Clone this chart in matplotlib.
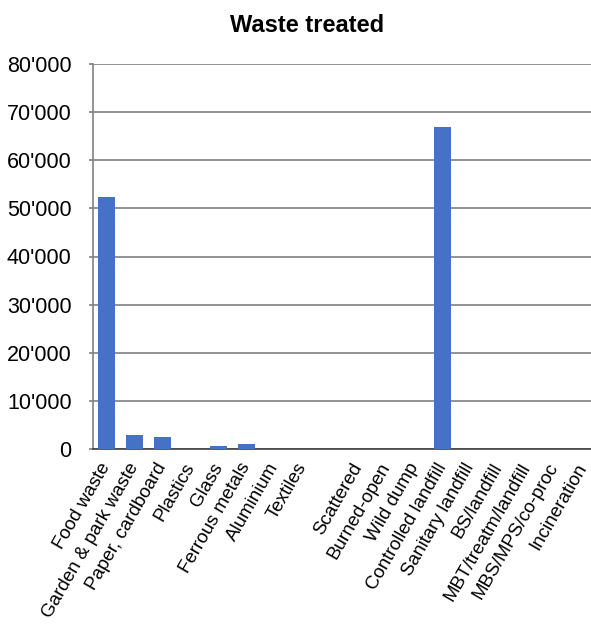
import matplotlib.pyplot as plt
import numpy as np
from matplotlib.ticker import FuncFormatter

plt.rcParams['font.family'] = ['Liberation Sans', 'DejaVu Sans']

categories = ['Food waste', 'Garden & park waste', 'Paper, cardboard', 'Plastics',
              'Glass', 'Ferrous metals', 'Aluminium', 'Textiles', '',
              'Scattered', 'Burned-open', 'Wild dump', 'Controlled landfill',
              'Sanitary landfill', 'BS/landfill', 'MBT/treatm/landfill',
              'MBS/MPS/co-proc', 'Incineration']
values = [52400, 2900, 2400, 0, 700, 1000, 0, 0, 0,
          0, 0, 0, 67000, 0, 0, 0, 0, 0]

fig = plt.figure(figsize=(5.91, 6.27), dpi=100)
ax = fig.add_axes([92.5 / 591, 1 - 449 / 627, 1 - 92.5 / 591, 385 / 627])

x = np.arange(len(categories))
ax.bar(x, values, width=0.58, color='#4472C4', zorder=3)

ax.set_xlim(-0.5, 17.3)
ax.set_ylim(0, 80000)
ax.set_yticks(np.arange(0, 80001, 10000))
ax.yaxis.set_major_formatter(FuncFormatter(lambda v, p: f"{int(v):,}".replace(',', "'")))
ax.grid(axis='y', color='#808080', linewidth=1.2, zorder=0)

for s in ['top', 'right']:
    ax.spines[s].set_visible(False)
ax.spines['left'].set_color('#808080')
ax.spines['bottom'].set_color('#404040')
ax.spines['left'].set_linewidth(1.2)
ax.spines['bottom'].set_linewidth(1.2)

ax.tick_params(axis='y', length=3, width=1.2, color='#808080', labelsize=15.5, pad=12)
ax.tick_params(axis='x', length=0, pad=11)
ax.set_xticks(x)
ax.set_xticklabels(categories, rotation=60, ha='right', va='center',
                   rotation_mode='anchor', fontsize=13.5)

fig.text(307 / 591, 1 - 26 / 627, 'Waste treated', ha='center', va='center',
         fontsize=17, fontweight='bold')

fig.savefig('out.png', dpi=100)
